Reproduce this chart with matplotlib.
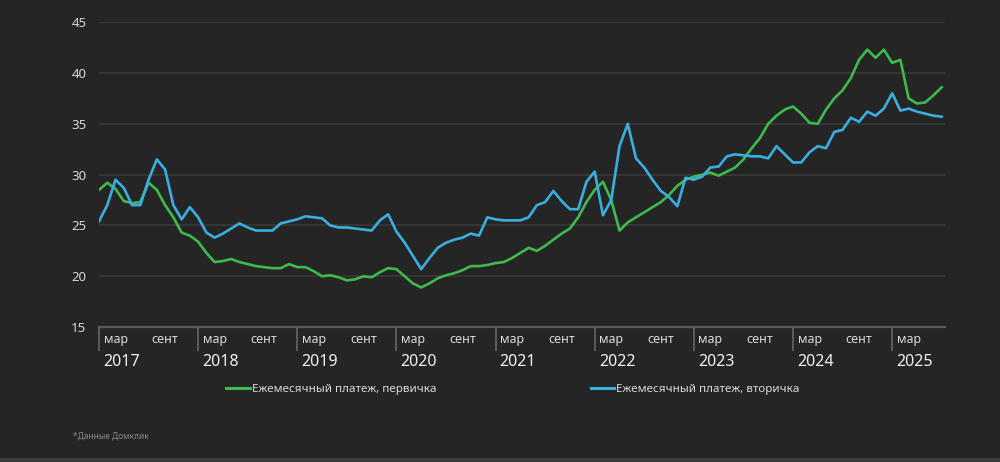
"""
Ежемесячный платеж по ипотеке: первичка и вторичка, 2017-2025
"""

import matplotlib
matplotlib.use("Agg")
import matplotlib.pyplot as plt
import matplotlib.transforms as mtransforms
from matplotlib.lines import Line2D
from matplotlib.patches import Rectangle

plt.rcParams['font.family'] = ['Noto Sans', 'DejaVu Sans']

# месяцы с января 2017 (0) по июль 2025 (102)
months = list(range(103))

primary = [
    28.5, 29.2, 28.6, 27.4, 27.2, 27.3, 29.2, 28.5, 27.0, 25.8, 24.3, 24.0,   # 2017
    23.4, 22.3, 21.4, 21.5, 21.7, 21.4, 21.2, 21.0, 20.9, 20.8, 20.8, 21.2,   # 2018
    20.9, 20.9, 20.5, 20.0, 20.1, 19.9, 19.6, 19.7, 20.0, 19.9, 20.4, 20.8,   # 2019
    20.7, 20.0, 19.3, 18.9, 19.3, 19.8, 20.1, 20.3, 20.6, 21.0, 21.0, 21.1,   # 2020
    21.3, 21.4, 21.8, 22.3, 22.8, 22.5, 23.0, 23.6, 24.2, 24.7, 25.8, 27.3,   # 2021
    28.5, 29.3, 27.5, 24.5, 25.3, 25.8, 26.3, 26.8, 27.3, 28.0, 28.9, 29.5,   # 2022
    29.8, 30.0, 30.2, 29.9, 30.3, 30.7, 31.5, 32.6, 33.6, 35.0, 35.8, 36.4,   # 2023
    36.7, 36.0, 35.1, 35.0, 36.4, 37.5, 38.3, 39.5, 41.3, 42.3, 41.5, 42.3,   # 2024
    41.0, 41.3, 37.5, 37.0, 37.1, 37.8, 38.6,                                 # 2025
]

secondary = [
    25.4, 27.0, 29.5, 28.7, 27.0, 27.0, 29.5, 31.5, 30.5, 27.0, 25.6, 26.8,   # 2017
    25.8, 24.3, 23.8, 24.2, 24.7, 25.2, 24.8, 24.5, 24.5, 24.5, 25.2, 25.4,   # 2018
    25.6, 25.9, 25.8, 25.7, 25.0, 24.8, 24.8, 24.7, 24.6, 24.5, 25.5, 26.1,   # 2019
    24.4, 23.3, 22.0, 20.7, 21.8, 22.8, 23.3, 23.6, 23.8, 24.2, 24.0, 25.8,   # 2020
    25.6, 25.5, 25.5, 25.5, 25.8, 27.0, 27.3, 28.4, 27.4, 26.6, 26.6, 29.3,   # 2021
    30.3, 26.0, 27.5, 32.8, 35.0, 31.6, 30.7, 29.5, 28.4, 27.8, 26.9, 29.7,   # 2022
    29.5, 29.8, 30.7, 30.8, 31.8, 32.0, 31.9, 31.8, 31.8, 31.6, 32.8, 32.0,   # 2023
    31.2, 31.2, 32.2, 32.8, 32.6, 34.2, 34.4, 35.6, 35.2, 36.2, 35.8, 36.5,   # 2024
    38.0, 36.3, 36.5, 36.2, 36.0, 35.8, 35.7,                                 # 2025
]

years = [2017, 2018, 2019, 2020, 2021, 2022, 2023, 2024, 2025]
month_labels = ['мар', 'сент']
y_ticks = [15, 20, 25, 30, 35, 40, 45]

bg = '#252525'
green = '#3dba4e'
blue = '#3aaee0'
grid_color = '#3b3b3b'
axis_color = '#5c5c5c'
text_color = '#d9d9d9'

fig = plt.figure(figsize=(10, 4.62), dpi=100, facecolor=bg)
ax = fig.add_axes([0.099, 0.292, 0.846, 0.66], facecolor=bg)

ax.plot(months, primary, color=green, linewidth=1.9, solid_joinstyle='round',
        label='Ежемесячный платеж, первичка', zorder=3)
ax.plot(months, secondary, color=blue, linewidth=1.9, solid_joinstyle='round',
        label='Ежемесячный платеж, вторичка', zorder=3)

ax.set_xlim(0, 102.4)
ax.set_ylim(15, 45)

# сетка
ax.set_yticks(y_ticks)
ax.set_yticklabels([str(v) for v in y_ticks])
ax.yaxis.grid(True, color=grid_color, linewidth=1.1)
ax.tick_params(axis='y', length=0, pad=9, labelsize=9.5, labelcolor=text_color)

for side in ['top', 'right', 'left']:
    ax.spines[side].set_visible(False)
ax.spines['bottom'].set_color(axis_color)
ax.spines['bottom'].set_linewidth(1.6)

# разделители годов
year_starts = [12 * i for i in range(len(years))]
ax.set_xticks(year_starts)
ax.set_xticklabels([''] * len(year_starts))
ax.tick_params(axis='x', which='major', direction='out', length=17, width=1.4,
               color=axis_color)

# подписи месяцев
minor_pos = []
minor_lab = []
for s in year_starts:
    for k, lab in zip([2, 8], month_labels):
        if s + k <= 102:
            minor_pos.append(s + k)
            minor_lab.append(lab)
ax.set_xticks(minor_pos, minor=True)
ax.set_xticklabels(minor_lab, minor=True)
ax.tick_params(axis='x', which='minor', length=0, pad=4, labelsize=9,
               labelcolor=text_color)

# подписи годов
trans = mtransforms.blended_transform_factory(ax.transData, ax.transAxes)
for s, yr in zip(year_starts, years):
    ax.text(s + 0.5, -0.115, str(yr), transform=trans, ha='left', va='center',
            fontsize=11.5, fontweight='semibold', color='#f0f0f0')

# легенда
handles = [
    Line2D([], [], color=green, linewidth=2.2),
    Line2D([], [], color=blue, linewidth=2.2),
]
fig.legend(handles, ['Ежемесячный платеж, первичка', 'Ежемесячный платеж, вторичка'],
           loc='center', bbox_to_anchor=(0.513, 0.158), ncol=2, frameon=False,
           fontsize=8.4, labelcolor=text_color, handlelength=2.0, handletextpad=0.2,
           columnspacing=13.2)

fig.text(0.073, 0.056, '*Данные Домклик', fontsize=6, color='#8a8a8a',
         ha='left', va='center')

# светлая полоса внизу
fig.add_artist(Rectangle((0, 0), 1, 0.009, transform=fig.transFigure,
                         facecolor='#3a3a3a', edgecolor='none'))

fig.savefig('out.png', dpi=100, facecolor=bg)
